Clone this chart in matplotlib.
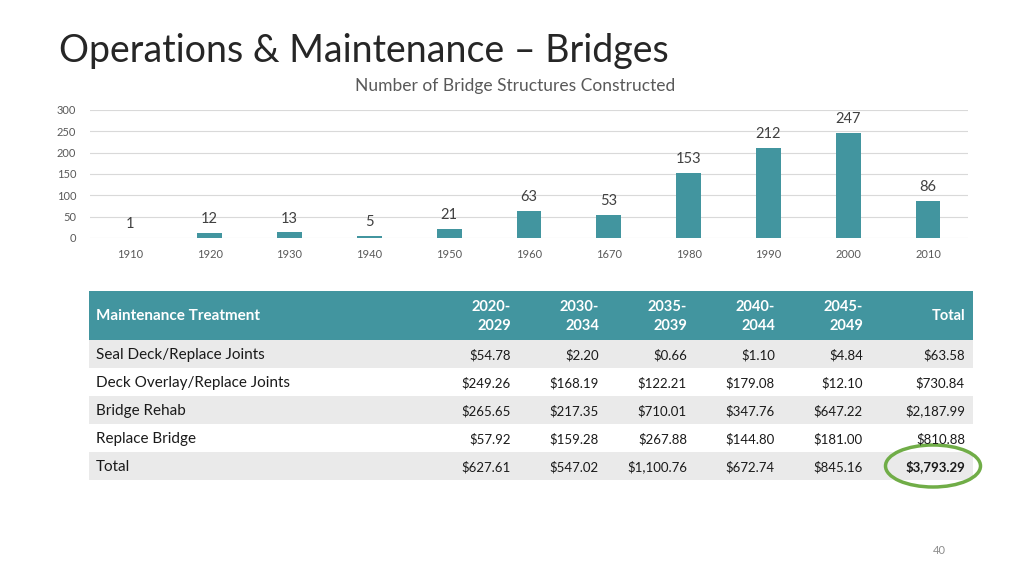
import matplotlib
matplotlib.use("Agg")
import matplotlib.pyplot as plt
from matplotlib.patches import Rectangle, Ellipse

plt.rcParams['font.family'] = ['Lato', 'DejaVu Sans']

# ---- data ----
decades = ["1910", "1920", "1930", "1940", "1950", "1960", "1670", "1980", "1990", "2000", "2010"]
bridges = [1, 12, 13, 5, 21, 63, 53, 153, 212, 247, 86]
y_ticks = [0, 50, 100, 150, 200, 250, 300]

col_headers = ["Maintenance Treatment", "2020-\n2029", "2030-\n2034", "2035-\n2039", "2040-\n2044", "2045-\n2049", "Total"]
treatments = ["Seal Deck/Replace Joints", "Deck Overlay/Replace Joints", "Bridge Rehab", "Replace Bridge", "Total"]
p2020_2029 = ["$54.78", "$249.26", "$265.65", "$57.92", "$627.61"]
p2030_2034 = ["$2.20", "$168.19", "$217.35", "$159.28", "$547.02"]
p2035_2039 = ["$0.66", "$122.21", "$710.01", "$267.88", "$1,100.76"]
p2040_2044 = ["$1.10", "$179.08", "$347.76", "$144.80", "$672.74"]
p2045_2049 = ["$4.84", "$12.10", "$647.22", "$181.00", "$845.16"]
totals = ["$63.58", "$730.84", "$2,187.99", "$810.88", "$3,793.29"]

TEAL = "#42959F"
GREY_TXT = "#595959"
W, H = 1024, 576

fig = plt.figure(figsize=(W / 100, H / 100), dpi=100)
fig.patch.set_facecolor("white")

def fx(px):
    return px / W

def fy(py):
    return 1 - py / H

# title
fig.text(fx(59), fy(62), "Operations & Maintenance – Bridges", fontsize=27, fontweight="normal",
         color="#262626", ha="left", va="baseline")

# chart title
fig.text(fx(515), fy(91), "Number of Bridge Structures Constructed", fontsize=12.5, color=GREY_TXT,
         ha="center", va="baseline")

# ---- bar chart ----
ax_l, ax_r, ax_top, ax_bot = 90, 968, 110, 238
ax = fig.add_axes([fx(ax_l), fy(ax_bot), (ax_r - ax_l) / W, (ax_bot - ax_top) / H])
x = range(len(decades))
bars = ax.bar(x, bridges, width=0.31, color=TEAL, zorder=3)
ax.set_xlim(-0.5, len(decades) - 0.5)
ax.set_ylim(0, 300)
ax.set_yticks(y_ticks)
ax.set_xticks(list(x))
ax.set_xticklabels(decades)
ax.tick_params(axis="both", length=0, labelsize=8, labelcolor=GREY_TXT)
ax.tick_params(axis="x", pad=8)
ax.tick_params(axis="y", pad=10)
for lab in ax.get_yticklabels():
    lab.set_horizontalalignment("right")
ax.grid(axis="y", color="#D9D9D9", lw=0.8, zorder=0)
for s in ax.spines.values():
    s.set_visible(False)
ax.set_facecolor("none")
for xi, v in zip(x, bridges):
    ax.annotate(str(v), (xi, v), xytext=(0, 5), textcoords="offset points",
                ha="center", va="bottom", fontsize=10.5, color="#404040")

# ---- table ----
tax = fig.add_axes([0, 0, 1, 1])
tax.set_xlim(0, W)
tax.set_ylim(H, 0)
tax.axis("off")

t_left, t_right = 89, 973
hdr_top, hdr_bot = 291, 340
row_h = 28
col_right = [None, 511, 599, 687, 775, 863, 965]

tax.add_patch(Rectangle((t_left, hdr_top), t_right - t_left, hdr_bot - hdr_top, color=TEAL, lw=0))
hdr_mid = (hdr_top + hdr_bot) / 2 + 1
for i, h in enumerate(col_headers):
    if i == 0:
        tax.text(96, hdr_mid, h, ha="left", va="center", color="white", fontsize=11, fontweight="bold")
    else:
        tax.text(col_right[i], hdr_mid, h, ha="right", va="center", color="white", fontsize=10.5,
                 fontweight="bold", linespacing=1.4)

columns = [p2020_2029, p2030_2034, p2035_2039, p2040_2044, p2045_2049, totals]
for r, name in enumerate(treatments):
    top = hdr_bot + r * row_h
    if r % 2 == 0:
        tax.add_patch(Rectangle((t_left, top), t_right - t_left, row_h, color="#EAEAEA", lw=0))
    mid = top + row_h / 2 + 1
    tax.text(96, mid, name, ha="left", va="center", color="#1a1a1a", fontsize=11)
    for c, col in enumerate(columns):
        bold = (r == len(treatments) - 1 and c == len(columns) - 1)
        tax.text(col_right[c + 1], mid, col[r], ha="right", va="center", color="#1a1a1a",
                 fontsize=9.5, fontweight="bold" if bold else "normal")

# highlight ellipse around grand total
tax.add_patch(Ellipse((933, 466), 95, 42, fill=False, edgecolor="#70AD47", lw=2.5))

# page number
fig.text(fx(939), fy(554), "40", fontsize=8, color="#8c8c8c", ha="center", va="baseline")

fig.savefig("out.png", dpi=100, facecolor="white")
